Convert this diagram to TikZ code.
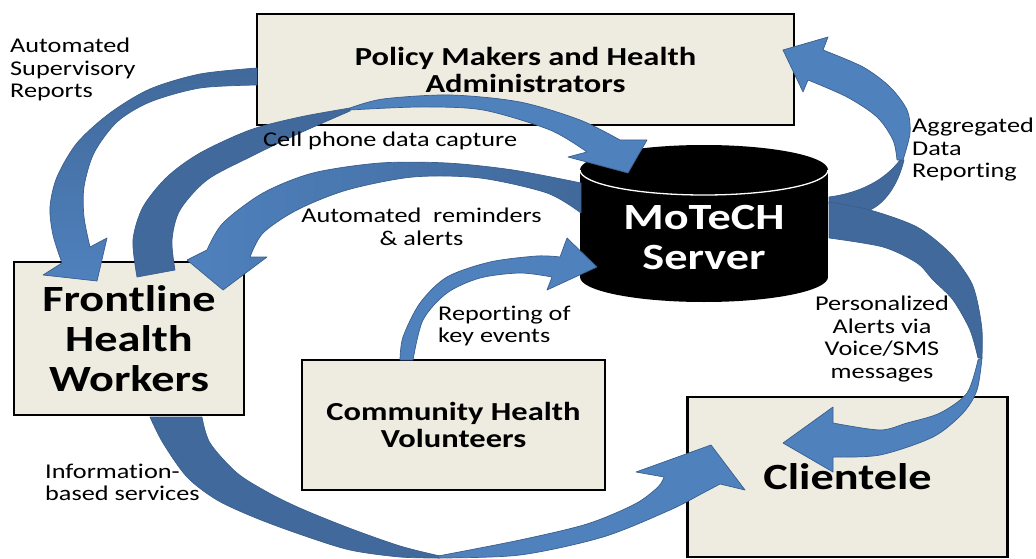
\documentclass[tikz,border=0pt]{standalone}
\usepackage{fontspec}
\setmainfont[FakeStretch=1.25,Ligatures=NoCommon]{Carlito}
\definecolor{boxfill}{HTML}{EEECE1}
\definecolor{arrlight}{HTML}{4F81BD}
\definecolor{arrdark}{HTML}{41699B}
\definecolor{arredge}{HTML}{3A5F8E}
\newcommand\lblfont{\fontsize{21}{22.5}\selectfont}
\newcommand\bigbold{\bfseries\fontsize{37}{40}\selectfont}
\newcommand\midbold{\bfseries\fontsize{26}{27}\selectfont}
\tikzset{
  box/.style={draw=black, line width=2.8pt, fill=boxfill, align=center, inner sep=0pt},
  lt/.style={fill=arrlight, draw=arredge, line width=0.7pt, line join=round},
  dk/.style={fill=arrdark, draw=arredge, line width=0.7pt, line join=round},
  lbl/.style={font=\lblfont, inner sep=0pt, text=black},
}
\begin{document}
\begin{tikzpicture}[x=1pt,y=-1pt]
\useasboundingbox (0,0) rectangle (1036,559);
% ---------- boxes ----------
\node[box, minimum width=537pt, minimum height=111pt, font=\midbold] (policy) at (525.5,69.5) {Policy Makers and Health\\Administrators};
\node[box, minimum width=230pt, minimum height=153pt, font=\bigbold] (flw) at (129,338.5) {Frontline\\Health\\Workers};
\node[box, minimum width=303pt, minimum height=130pt, font=\bfseries\fontsize{26}{26.5}\selectfont] (chv) at (453.5,425) {Community Health\\Volunteers};
\node[box, minimum width=320pt, minimum height=160pt, font=\bigbold] (client) at (847.5,477) {Clientele};
% ---------- cylinder ----------
\fill[black] (580,170) rectangle (828,277);
\fill[black] (704,277) ellipse [x radius=124pt, y radius=25pt];
\fill[black] (704,170) ellipse [x radius=124pt, y radius=25pt];
\draw[white, line width=1.3pt] (580,170) arc[start angle=180, end angle=360, x radius=124pt, y radius=25pt];
\node[font=\bigbold, text=white, align=center, inner sep=0pt] (server) at (704,238) {MoTeCH\\Server};
% ---------- A5 aggregated data reporting ----------
\filldraw[dk] (829,197) .. controls (860,193) and (885,180) .. (900,160) -- (904,160)
  .. controls (898,185) and (885,203) .. (870,210) -- (829,204) -- cycle;
\filldraw[lt] plot[smooth] coordinates {(903,160) (910,133) (907,110) (890,87) (863,67) (823,50)}
  -- (828,37) -- (783,50) -- (803,92) -- (808,80)
  -- plot[smooth] coordinates {(808,80) (847,97) (877,117) (893,140) (897,160)} -- cycle;
% ---------- A6 personalized alerts ----------
\filldraw[dk] plot[smooth] coordinates {(829,202) (870,210) (917,227) (950,253) (970,280) (977,300) (982,330) (982,358)}
  -- plot[smooth] coordinates {(978,358) (970,330) (953,300) (933,280) (917,263) (883,247) (829,238)} -- cycle;
\filldraw[lt] plot[smooth] coordinates {(982,358) (977,390) (963,413) (933,437) (880,455) (833,457)}
  -- (833,472) -- (783,443) -- (833,407) -- (833,423)
  -- plot[smooth] coordinates {(833,423) (880,430) (907,423) (940,413) (967,393) (978,360)} -- cycle;
% ---------- A1 automated supervisory reports ----------
\shadedraw[top color=arrdark, bottom color=arrlight, draw=arredge, line width=0.7pt, line join=round]
  plot[smooth] coordinates {(257,68) (200,74) (150,89) (110,113) (77,143) (57,177) (50,207) (53,235) (62,263)}
  -- (43,275) -- (97,281) -- (107,238) -- (90,247)
  -- plot[smooth] coordinates {(90,247) (84,217) (84,187) (94,153) (117,122) (150,102) (200,88) (257,85)} -- cycle;
% ---------- A2 cell phone data capture ----------
\filldraw[dk] plot[smooth] coordinates {(137,277) (133,240) (143,207) (167,177) (200,153) (250,130) (300,117) (350,108)}
  -- plot[smooth] coordinates {(350,111) (300,133) (250,157) (207,180) (180,210) (172,240) (175,270)} -- cycle;
\filldraw[lt] plot[smooth] coordinates {(350,108) (383,99) (450,95) (520,102) (580,120) (620,140)}
  -- (647,140) -- (628,173) -- (568,157) -- (587,152)
  -- plot[smooth] coordinates {(587,152) (550,130) (483,110) (420,107) (350,110)} -- cycle;
% ---------- A3 automated reminders ----------
\shadedraw[left color=arrlight, right color=arrdark, draw=arredge, line width=0.7pt, line join=round]
  plot[smooth] coordinates {(581,183) (513,170) (447,163) (380,163) (313,173) (263,193) (223,223) (207,250)}
  -- (187,260) -- (223,290) -- (267,257) -- (250,257)
  -- plot[smooth] coordinates {(250,257) (263,233) (297,210) (347,190) (413,177) (480,178) (547,193) (581,213)} -- cycle;
% ---------- A4 reporting of key events ----------
\filldraw[lt] plot[smooth] coordinates {(400,360) (403,337) (420,303) (447,277) (490,262) (537,256) (560,257)}
  -- (567,238) -- (597,267) -- (547,290) -- (552,277)
  -- plot[smooth] coordinates {(552,277) (520,273) (480,278) (447,293) (423,320) (413,360)} -- cycle;
% ---------- A7 information-based services ----------
\filldraw[dk] plot[smooth] coordinates {(150,417) (163,443) (187,477) (217,500) (256,518) (302,535) (350,550) (400,557) (440,558)}
  -- plot[smooth] coordinates {(440,556) (400,546) (349,528) (302,509) (269,493) (237,473) (210,443) (202,417)} -- cycle;
\filldraw[lt] plot[smooth] coordinates {(438,558) (520,555) (603,537) (670,510) (703,493) (720,484)}
  -- (745,490) -- (711,445) -- (636,472) -- (664,477)
  -- plot[smooth] coordinates {(664,477) (658,487) (635,504) (587,524) (520,540) (438,556)} -- cycle;
% ---------- labels ----------
\node[lbl, align=left, anchor=west] (lsup) at (10,69.5) {Automated\\Supervisory\\Reports};
\node[lbl, anchor=west] (lcell) at (263,141) {Cell phone data capture};
\node[lbl, align=center] (lrem) at (421.5,227) {Automated\ \ reminders\\\& alerts};
\node[lbl, align=left, anchor=west] (lagg) at (912,150) {Aggregated\\Data\\Reporting};
\node[lbl, align=left, anchor=west] (lkey) at (438,326) {Reporting of\\key events};
\node[lbl, align=center] (lpers) at (882,339) {Personalized\\Alerts via\\Voice/SMS\\messages};
\node[lbl, align=left, anchor=west] (linfo) at (45,482.5) {Information-\\based services};
\end{tikzpicture}
\end{document}
